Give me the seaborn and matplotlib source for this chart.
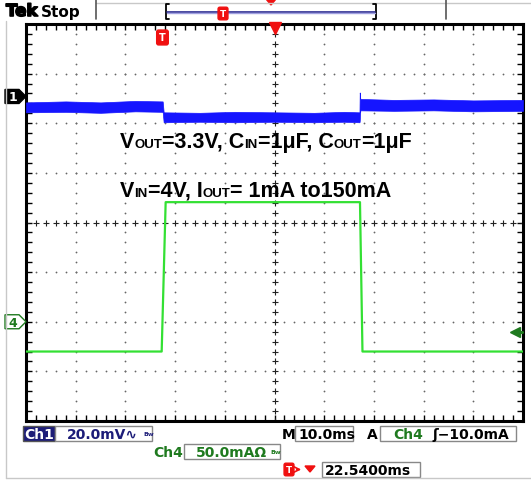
"""
Tek scope capture: load-transient of an LDO (Ch1 = Vout ripple, Ch4 = Iout)
"""

import numpy as np
import seaborn as sns
import matplotlib

matplotlib.use("Agg")
import matplotlib.pyplot as plt
import matplotlib.transforms as mtransforms
import matplotlib.patheffects as pe
from matplotlib.patches import Rectangle, Polygon

# ---- data (time in ms, 10 ms/div, screen centre = 0; y in divisions) ----
ch1_time = [-50, -42, -35, -28, -22.5, -22.3, -15, -8, 0, 8, 14, 17.1, 17.15, 17.25, 17.35, 24, 32, 40, 50]
ch1_upper = [2.42, 2.44, 2.42, 2.45, 2.44, 2.22, 2.21, 2.23, 2.22, 2.21, 2.23, 2.22, 2.62, 2.50, 2.49, 2.47, 2.48, 2.46, 2.47]
ch1_lower = [2.22, 2.23, 2.21, 2.24, 2.23, 2.02, 2.03, 2.02, 2.03, 2.02, 2.03, 2.02, 2.05, 2.25, 2.26, 2.25, 2.26, 2.24, 2.25]

ch4_time = [-50, -22.7, -21.9, 17.2, 17.7, 50]
ch4_div = [-2.6, -2.6, 0.41, 0.41, -2.6, -2.6]

ch1_ref_div = 2.54        # Ch1 ground marker
ch4_ref_div = -2.0        # Ch4 ground marker
trig_level_div = -2.2     # -10 mA at 50 mA/div
trig_pos_ms = -22.54      # trigger position

ch1_scale = "20.0mV"
ch4_scale = "50.0mA"
time_scale = "10.0ms"
trig_readout = "\u0283\u221210.0mA"
delay_readout = "22.5400ms"

line1 = [("V", "big"), ("OUT", "sub"), ("=3.3V, C", "big"), ("IN", "sub"),
         ("=1\u03bcF, C", "big"), ("OUT", "sub"), ("=1\u03bcF", "big")]
line2 = [("V", "big"), ("IN", "sub"), ("=4V, I", "big"), ("OUT", "sub"),
         ("= 1mA to150mA", "big")]

# ---- colours ----
BLUE = "#1515ff"
GREEN = "#33e033"
DKGREEN = "#1f7a1f"
NAVY = "#1c1c78"
RED = "#f01010"

sns.set_theme(style="white")
plt.rcParams["font.family"] = ["DejaVu Sans"]

W, H = 531, 481
fig = plt.figure(figsize=(W / 100, H / 100), dpi=100)
fig.patch.set_facecolor("white")

AX_L, AX_T, AX_W, AX_H = 26, 25, 497, 397
ax = fig.add_axes([AX_L / W, 1 - (AX_T + AX_H) / H, AX_W / W, AX_H / H])
ax.set_xlim(-50, 50)
ax.set_ylim(-4, 4)


def px_y(v):
    return AX_T + (4 - v) / 8 * AX_H


# grid dots
xs = np.arange(-50, 50.01, 2)
ys = np.arange(-4, 4.01, 0.2)
for gy in [-3, -2, -1, 1, 2, 3]:
    ax.plot(xs, np.full_like(xs, gy), ls="none", marker="o", ms=1.3, color="#666", mew=0)
for gx in [-40, -30, -20, -10, 10, 20, 30, 40]:
    ax.plot(np.full_like(ys, gx), ys, ls="none", marker="o", ms=1.3, color="#666", mew=0)
# centre crosshair
ax.plot(xs, np.zeros_like(xs), ls="none", marker="+", ms=5, mew=0.8, color="#222")
ax.plot(np.zeros_like(ys), ys, ls="none", marker="+", ms=5, mew=0.8, color="#222")

# traces
ax.fill_between(ch1_time, ch1_lower, ch1_upper, color=BLUE, lw=0.5, edgecolor=BLUE, zorder=3)
sns.lineplot(x=ch4_time, y=ch4_div, sort=False, estimator=None, color=GREEN, lw=1.6, ax=ax, zorder=3)

# frame + ticks
ax.set_xticks(np.arange(-50, 50.01, 2))
ax.set_yticks(np.arange(-4, 4.01, 0.2))
ax.tick_params(which="both", direction="in", length=4, width=1, color="black",
               top=True, right=True, bottom=True, left=True,
               labelbottom=False, labelleft=False)
for sp in ax.spines.values():
    sp.set_visible(True)
    sp.set_color("black")
    sp.set_linewidth(2.2)
ax.set_facecolor("white")

# trigger markers inside the graticule
bt = mtransforms.blended_transform_factory(ax.transData, ax.transAxes)
ax.plot([0], [0.99], marker="v", ms=8, color=RED, transform=bt, clip_on=False, zorder=6)
ax.text(trig_pos_ms, 0.966, "T", transform=bt, ha="center", va="center", color="white",
        fontsize=7, fontweight="bold",
        bbox=dict(boxstyle="round,pad=0.25,rounding_size=0.2", fc=RED, ec=RED), zorder=6)
tb = mtransforms.blended_transform_factory(ax.transAxes, ax.transData)
ax.plot([0.983], [trig_level_div], marker="<", ms=7, color=DKGREEN, transform=tb, clip_on=False, zorder=6)
ax.plot([0.983, 0.997], [trig_level_div, trig_level_div], color=DKGREEN, lw=2.2, transform=tb,
        clip_on=False, zorder=6)

# ---- overlay in pixel coordinates ----
ov = fig.add_axes([0, 0, 1, 1], zorder=5)
ov.set_xlim(0, W)
ov.set_ylim(H, 0)
ov.axis("off")
ov.patch.set_alpha(0)

renderer = fig.canvas.get_renderer()


def rich(x, y, parts, sizes, **kw):
    for s, kind in parts:
        t = ov.text(x, y, s, fontsize=sizes[kind], va="baseline", ha="left", **kw)
        x += t.get_window_extent(renderer).width


ann = dict(family=["Liberation Sans", "DejaVu Sans"], fontweight="bold", color="black")
rich(120, 148, line1, {"big": 15.5, "sub": 9.5}, **ann)
rich(120, 197, line2, {"big": 15.5, "sub": 9.5}, **ann)

# channel ground markers
y1 = px_y(ch1_ref_div)
ov.add_patch(Polygon([(5, y1 - 7), (19, y1 - 7), (26, y1), (19, y1 + 7), (5, y1 + 7)],
                     closed=True, fc="black", ec="black"))
ov.text(13, y1 + 0.5, "1", color="white", fontsize=9, fontweight="bold", ha="center", va="center")
y4 = px_y(ch4_ref_div)
ov.add_patch(Polygon([(5, y4 - 7), (19, y4 - 7), (26, y4), (19, y4 + 7), (5, y4 + 7)],
                     closed=True, fc="white", ec=DKGREEN, lw=1))
ov.text(13, y4 + 0.5, "4", color=DKGREEN, fontsize=9, fontweight="bold", ha="center", va="center")

# screen border
ov.plot([6, 6], [22, 479], color="#c8c8c8", lw=1)
ov.plot([6, 531], [479, 479], color="#c8c8c8", lw=1)
ov.plot([96, 531], [4, 4], color="#c8c8c8", lw=1)

# top status bar
ov.text(6, 17, "Tek", fontsize=12, fontweight="bold", color="black",
        path_effects=[pe.withStroke(linewidth=1.2, foreground="black")])
ov.text(41, 17, "Stop", fontsize=11, fontweight="bold", color="black")
ov.plot([96, 96], [0, 20], color="#555", lw=1.2)
ov.plot([446, 446], [0, 20], color="#555", lw=1.2)
for bx, d in [(166, 3), (376, -3)]:
    ov.plot([bx + d, bx, bx, bx + d], [5, 5, 20, 20], color="black", lw=1.3)
ov.plot([167, 375], [12.5, 12.5], color="#2a2a90", lw=1.2)
ov.plot([167, 375], [14.3, 14.3], color="#a0a0e0", lw=1)
ov.add_patch(Polygon([(266, 0), (276, 0), (271, 6)], closed=True, fc=RED, ec=RED))
ov.text(223, 14.5, "T", ha="center", va="center", color="white", fontsize=6.5, fontweight="bold",
        bbox=dict(boxstyle="round,pad=0.2,rounding_size=0.2", fc=RED, ec=RED))

# bottom readouts
BOX = dict(fc="white", ec="#888", lw=1)
FS = 10
ov.add_patch(Rectangle((23, 427), 32, 15, fc=NAVY, ec="#555", lw=1))
ov.text(39, 435, "Ch1", color="white", fontsize=FS, fontweight="bold", ha="center", va="center")
ov.add_patch(Rectangle((55, 427), 97, 15, **BOX))
ov.text(67, 435, ch1_scale + "\u223f", color=NAVY, fontsize=FS, fontweight="bold", va="center")
ov.text(143, 435, "Bw", color=NAVY, fontsize=4.5, fontweight="bold", va="center")

ov.text(282, 435, "M", color="black", fontsize=FS, fontweight="bold", va="center")
ov.add_patch(Rectangle((295, 427), 58, 15, **BOX))
ov.text(298, 435, time_scale, color="black", fontsize=FS, fontweight="bold", va="center")
ov.text(367, 435, "A", color="black", fontsize=FS, fontweight="bold", va="center")
ov.add_patch(Rectangle((380, 427), 136, 15, **BOX))
ov.text(393, 435, "Ch4", color=DKGREEN, fontsize=FS, fontweight="bold", va="center")
ov.text(432, 435, trig_readout, color="black", fontsize=FS, fontweight="bold", va="center")

ov.text(153, 453, "Ch4", color=DKGREEN, fontsize=FS, fontweight="bold", va="center")
ov.add_patch(Rectangle((184, 445), 96, 15, **BOX))
ov.text(196, 453, ch4_scale + "\u03a9", color=DKGREEN, fontsize=FS, fontweight="bold", va="center")
ov.text(270, 453, "Bw", color=DKGREEN, fontsize=4.5, fontweight="bold", va="center")

ov.text(289, 470.5, "T", ha="center", va="center", color="white", fontsize=6.5, fontweight="bold",
        bbox=dict(boxstyle="round,pad=0.2,rounding_size=0.2", fc=RED, ec=RED))
ov.annotate("", xy=(304, 470.5), xytext=(294, 470.5),
            arrowprops=dict(arrowstyle="->", color=RED, lw=1.2))
ov.add_patch(Polygon([(305, 467), (315, 467), (310, 473)], closed=True, fc=RED, ec=RED))
ov.add_patch(Rectangle((322, 463), 98, 15, **BOX))
ov.text(325, 471, delay_readout, color="black", fontsize=FS, fontweight="bold", va="center")

fig.savefig("out.png", dpi=100, facecolor="white")
